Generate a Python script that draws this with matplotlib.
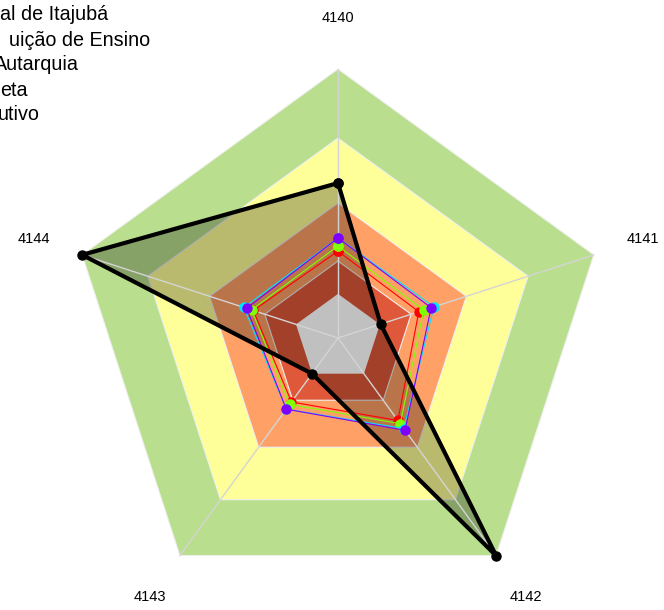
import numpy as np
import matplotlib.pyplot as plt

plt.rcParams['font.family'] = ['Liberation Sans', 'DejaVu Sans']

categories = ['4140', '4141', '4142', '4143', '4144']

# background bands (outer limit of each ring, same scale as the series)
band_levels = [100, 74.3, 50.2, 28.6]
band_colors = ['#b9df8e', '#ffff99', '#ffa066', '#e0583a']
center_level = 16.4
center_color = '#c0c0c0'

# series values
red_vals = [32.3, 31.6, 37.9, 29.4, 33.1]
green_vals = [34.2, 33.5, 39.4, 30.5, 33.8]
cyan_vals = [37.2, 37.5, 41.6, 32.7, 36.8]
purple_vals = [37.2, 36.4, 42.4, 32.7, 35.7]
black_vals = [57.6, 16.7, 100, 16.4, 100]

legend_labels = ['al de Itajubá', 'uição de Ensino', 'Autarquia', 'eta', 'utivo']

def closed(v):
    return list(v) + [v[0]]

angles = np.linspace(0, 2 * np.pi, len(categories), endpoint=False)
theta = closed(angles)

fig = plt.figure(figsize=(6.64, 6.10), dpi=100)
ax = fig.add_axes([0.1039, 0.0049, 0.8102, 0.882], projection='polar')
ax.set_theta_offset(np.pi / 2)
ax.set_theta_direction(-1)
ax.set_ylim(0, 100)
ax.set_yticks([])
ax.set_xticks(angles)
ax.set_xticklabels([])
ax.spines['polar'].set_visible(False)
ax.set_facecolor('none')
ax.grid(False)

for lev, col in zip(band_levels, band_colors):
    ax.fill(theta, [lev] * len(theta), color=col, lw=0.8, ec='#f0f0f0', zorder=0.5)

ax.fill(theta, closed(black_vals), color='black', alpha=0.27, lw=0, zorder=1)

# grey centre sits above the shaded area
ax.fill(theta, [center_level] * len(theta), color=center_color, lw=0, zorder=1.5)

# spokes
for a in angles:
    ax.plot([a, a], [0, 100], color='#d4d4d4', lw=1.0, zorder=2, clip_on=False)

for vals, col in [(red_vals, '#ff0000'), (green_vals, '#80ff00'),
                  (cyan_vals, '#00e5ff'), (purple_vals, '#8000ff')]:
    ax.plot(theta, closed(vals), color=col, lw=0.8, marker='o', ms=6.5,
            zorder=3, clip_on=False)

ax.plot(theta, closed(black_vals), color='black', lw=3, marker='o', ms=6.5,
        zorder=4, clip_on=False)

for a, lab in zip(angles, categories):
    ax.text(a, 119, lab, ha='center', va='center', fontsize=10.5)

# legend, cut off at the left edge as in the source image
ys = [15, 40, 65, 90, 115]
rights = [108, 150, 79, 28, 40]
for lab, y, r in zip(legend_labels, ys, rights):
    fig.text(r / 664, 1 - y / 610, lab, ha='right', va='center', fontsize=14.2)

fig.savefig('out.png', dpi=100)
